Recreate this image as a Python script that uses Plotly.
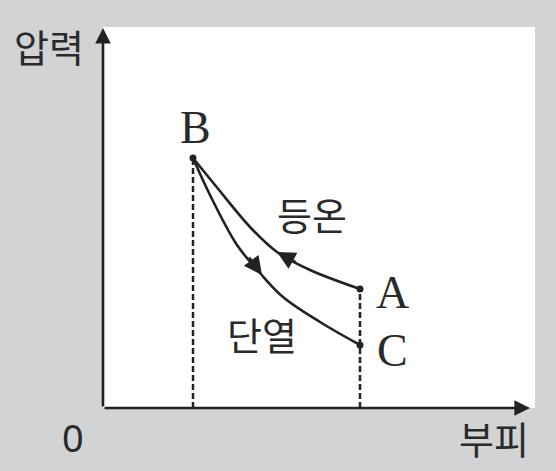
import plotly.graph_objects as go

# Data (arbitrary units)
iso_v = [90, 112, 147, 174, 207, 257]
iso_p = [250, 223, 181, 156, 138, 119]
adi_v = [90, 107, 134, 157, 180, 217, 257]
adi_p = [250, 213, 163, 135, 111, 86, 63]
pt_names = ["B", "A", "C"]
pt_v = [90, 257, 257]
pt_p = [250, 119, 63]

INK = "#222222"
BG = "#d2d3d5"
fig = go.Figure()

# dashed verticals
fig.add_trace(go.Scatter(x=[pt_v[0], pt_v[0]], y=[0, pt_p[0]], mode="lines",
                         line=dict(color=INK, width=2.5, dash="6px,3px"), hoverinfo="skip"))
fig.add_trace(go.Scatter(x=[pt_v[1], pt_v[1]], y=[0, pt_p[1]], mode="lines",
                         line=dict(color=INK, width=2.5, dash="6px,3px"), hoverinfo="skip"))
# curves
fig.add_trace(go.Scatter(x=iso_v, y=iso_p, mode="lines",
                         line=dict(color=INK, width=2.6, shape="spline"), hoverinfo="skip"))
fig.add_trace(go.Scatter(x=adi_v, y=adi_p, mode="lines",
                         line=dict(color=INK, width=2.6, shape="spline"), hoverinfo="skip"))
# points
fig.add_trace(go.Scatter(x=pt_v, y=pt_p, mode="markers",
                         marker=dict(color=INK, size=7), hoverinfo="skip"))

ann = []
# axes with arrows
ann.append(dict(x=427, y=0, ax=0, ay=0, xref="x", yref="y", axref="x", ayref="y",
                showarrow=True, arrowhead=2, arrowsize=1.2, arrowwidth=2.6, arrowcolor=INK, text=""))
ann.append(dict(x=0, y=380, ax=0, ay=0, xref="x", yref="y", axref="x", ayref="y",
                showarrow=True, arrowhead=2, arrowsize=1.2, arrowwidth=2.6, arrowcolor=INK, text=""))
# direction arrows on curves
ann.append(dict(x=174, y=156, ax=194, ay=145, xref="x", yref="y", axref="x", ayref="y",
                showarrow=True, arrowhead=2, arrowsize=1.4, arrowwidth=2.6, arrowcolor=INK, text=""))
ann.append(dict(x=159, y=133, ax=145, ay=152, xref="x", yref="y", axref="x", ayref="y",
                showarrow=True, arrowhead=2, arrowsize=1.4, arrowwidth=2.6, arrowcolor=INK, text=""))

serif = dict(family="Liberation Serif", size=46, color="#2a2a2a")
kor = dict(family="Noto Sans CJK KR", size=38, color="#2a2a2a")
ann.append(dict(x=92, y=281, text="B", showarrow=False, font=serif))
ann.append(dict(x=289, y=116, text="A", showarrow=False, font=serif))
ann.append(dict(x=289, y=58, text="C", showarrow=False, font=serif))
ann.append(dict(x=209, y=195, text="등온", showarrow=False, font=kor))
ann.append(dict(x=159, y=75, text="단열", showarrow=False, font=kor))
# outside-plot labels in paper coordinates (plot area 432 x 381 px)
ann.append(dict(x=-54 / 432, y=363 / 381, xref="paper", yref="paper",
                xanchor="center", yanchor="middle",
                text="압력", showarrow=False, font=kor))
ann.append(dict(x=391 / 432, y=-29 / 381, xref="paper", yref="paper",
                xanchor="center", yanchor="middle",
                text="부피", showarrow=False, font=kor))
ann.append(dict(x=-30 / 432, y=-29 / 381, xref="paper", yref="paper",
                xanchor="center", yanchor="middle", text="0", showarrow=False,
                font=dict(family="Noto Sans", size=38, color="#2a2a2a")))

fig.update_layout(
    width=556, height=471,
    margin=dict(l=103, r=21, t=27, b=63),
    paper_bgcolor=BG, plot_bgcolor="white",
    showlegend=False, annotations=ann,
    xaxis=dict(range=[0, 432], visible=False, fixedrange=True),
    yaxis=dict(range=[0, 381], visible=False, fixedrange=True),
)
fig.write_html("out.html", config=dict(displayModeBar=False),
               post_script="document.body.style.margin='0';document.body.style.background='%s';" % BG)
